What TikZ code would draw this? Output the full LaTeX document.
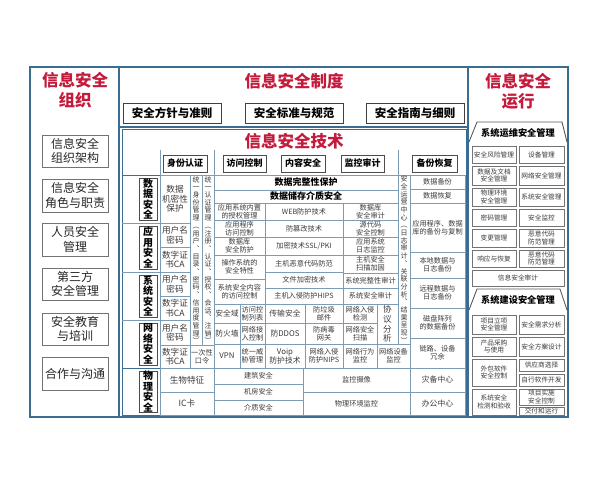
\documentclass[tikz,border=0pt]{standalone}
\usepackage{fontspec}
\setmainfont{Noto Sans CJK SC}
\definecolor{framec}{HTML}{3A6D90}
\definecolor{gridc}{HTML}{7D9CB4}
\definecolor{redc}{HTML}{C41A3B}
\definecolor{txt}{HTML}{3A3A3A}
\newcommand\bx[7][]{\node[cell,#1,minimum width={(#4-#2)*1pt},minimum height={(#5-#3)*1pt}] (#6) at ({(#2+#4)/2},{(#3+#5)/2}) {#7};}
\tikzset{
  frame/.style={draw=framec,line width=1.4pt},
  cell/.style={draw=gridc,line width=0.6pt,inner sep=0pt,outer sep=0pt,align=center,text=txt,font=\fontsize{7.2}{8}\selectfont},
  big/.style={font=\fontsize{8.6}{9.6}\selectfont},
  mid/.style={font=\fontsize{7.8}{8.6}\selectfont},
  strip/.style={font=\fontsize{7}{7.7}\selectfont},
  orgbox/.style={draw=black!55,line width=0.8pt,text=black!85,font=\fontsize{12}{14.5}\selectfont},
  polbox/.style={draw=black!75,line width=0.9pt,text=black,font=\bfseries\fontsize{11.5}{12}\selectfont},
  hdr/.style={draw=black!70,line width=0.8pt,text=black,font=\bfseries\fontsize{9}{10}\selectfont},
  catbox/.style={draw=black!70,line width=0.8pt,text=black,font=\bfseries\fontsize{10}{10.6}\selectfont},
  boldrow/.style={text=black,font=\bfseries\fontsize{9}{10}\selectfont},
  opcell/.style={draw=black!55,line width=0.7pt,text=txt,font=\fontsize{6.7}{7.6}\selectfont},
  trap/.style={draw=black!65,line width=0.9pt},
  traptext/.style={text=black,font=\bfseries\fontsize{9.2}{10}\selectfont},
  title/.style={text=redc,align=center,font=\bfseries\fontsize{16.5}{20}\selectfont}
}
\begin{document}
\begin{tikzpicture}[x=1pt,y=-1pt]
\useasboundingbox (0,0) rectangle (600,480);
% main frame
\draw[frame] (30,67) rectangle (568,417);
\draw[frame] (119,67) -- (119,417);
\draw[frame] (468,67) -- (468,417);
\draw[frame] (119,127) -- (468,127);
\draw[draw=framec,line width=0.8pt] (122,129) rectangle (466,415);
% titles
\node[title] (tOrg) at (75,90) {信息安全\\组织};
\node[title] (tSys) at (294,81) {信息安全制度};
\node[title] (tRun) at (518,91) {信息安全\\运行};
\node[title] (tTech) at (294,141) {信息安全技术};
% organisation boxes
\bx[orgbox]{42}{135}{108}{167}{o1}{信息安全\\组织架构}
\bx[orgbox]{42}{179}{108}{212}{o2}{信息安全\\角色与职责}
\bx[orgbox]{42}{223}{108}{256}{o3}{人员安全\\管理}
\bx[orgbox]{42}{268}{108}{300}{o4}{第三方\\安全管理}
\bx[orgbox]{42}{313}{108}{345}{o5}{安全教育\\与培训}
\bx[orgbox]{42}{357}{108}{390}{o6}{合作与沟通}
% policy boxes
\bx[polbox]{123}{103}{221}{123}{p1}{安全方针与准则}
\bx[polbox]{245}{103}{343}{123}{p2}{安全标准与规范}
\bx[polbox]{366}{103}{464}{123}{p3}{安全指南与细则}
% tech header area
\draw[draw=gridc,line width=0.8pt] (160,150) -- (160,175);
\draw[draw=gridc,line width=0.8pt] (214,150) -- (214,175);
\draw[draw=gridc,line width=0.8pt] (398,150) -- (398,175);
\draw[draw=framec,line width=0.8pt] (122,175) -- (466,175);
\bx[hdr]{163}{155}{207}{172}{h1}{身份认证}
\bx[hdr]{223}{155}{266}{172}{h2}{访问控制}
\bx[hdr]{281}{155}{325}{172}{h3}{内容安全}
\bx[hdr]{341}{155}{384}{172}{h4}{监控审计}
\bx[hdr]{412}{155}{457}{172}{h5}{备份恢复}
% category column
\draw[draw=gridc,line width=0.8pt] (122,223) -- (160,223);
\draw[draw=gridc,line width=0.8pt] (122,272) -- (160,272);
\draw[draw=gridc,line width=0.8pt] (122,320) -- (160,320);
\draw[draw=framec,line width=0.8pt] (122,368) -- (466,368);
\bx[catbox]{139}{178}{157}{220}{k1}{数\\据\\安\\全}
\bx[catbox]{139}{226}{157}{269}{k2}{应\\用\\安\\全}
\bx[catbox]{139}{275}{157}{317}{k3}{系\\统\\安\\全}
\bx[catbox]{139}{323}{157}{365}{k4}{网\\络\\安\\全}
\bx[catbox]{139}{371}{157}{412}{k5}{物\\理\\安\\全}
% identity column
\bx[big]{160}{175}{190}{223}{i1}{数据\\机密性\\保护}
\bx[big]{160}{223}{190}{247}{i2}{用户名\\密码}
\bx[big]{160}{247}{190}{272}{i3}{数字证\\书CA}
\bx[big]{160}{272}{190}{296}{i4}{用户名\\密码}
\bx[big]{160}{296}{190}{320}{i5}{数字证\\书CA}
\bx[big]{160}{320}{190}{345}{i6}{用户名\\密码}
\bx[big]{160}{345}{190}{368}{i7}{数字证\\书CA}
\bx[strip]{190}{175}{202}{345}{s1}{统\\一\\身\\份\\管\\理\\︵\\用\\户\\︑\\目\\录\\︑\\密\\码\\︑\\信\\用\\度\\管\\理\\︶}
\bx[strip]{202}{175}{214}{345}{s2}{统\\一\\认\\证\\管\\理\\︵\\注\\册\\︑\\认\\证\\︑\\授\\权\\︑\\会\\话\\︑\\注\\销\\︶}
\bx{190}{345}{214}{368}{i8}{一次性\\口令}
% data rows
\bx[boldrow]{214}{175}{398}{190}{d1}{数据完整性保护}
\bx[boldrow]{214}{190}{398}{203}{d2}{数据储存介质安全}
\bx{214}{203}{265}{220}{a1}{应用系统内置\\的授权管理}
\bx{265}{203}{343}{220}{a2}{WEB防护技术}
\bx{343}{203}{398}{220}{a3}{数据库\\安全审计}
\bx{214}{220}{265}{237}{a4}{应用程序\\访问控制}
\bx{265}{220}{343}{237}{a5}{防篡改技术}
\bx{343}{220}{398}{237}{a6}{源代码\\安全控制}
\bx{214}{237}{265}{255}{a7}{数据库\\安全防护}
\bx{265}{237}{343}{255}{a8}{加密技术SSL/PKI}
\bx{343}{237}{398}{255}{a9}{应用系统\\日志监控}
\bx{214}{255}{265}{279}{b1}{操作系统的\\安全特性}
\bx{214}{279}{265}{304}{b2}{系统安全内容\\的访问控制}
\bx{265}{255}{343}{272}{b3}{主机恶意代码防范}
\bx{265}{272}{343}{288}{b4}{文件加密技术}
\bx{265}{288}{343}{304}{b5}{主机入侵防护HIPS}
\bx{343}{255}{398}{273}{b6}{主机安全\\扫描加固}
\bx{343}{273}{398}{288}{b7}{系统完整性审计}
\bx{343}{288}{398}{304}{b8}{系统安全审计}
% network rows
\bx[mid]{214}{304}{240}{323}{n1}{安全域}
\bx[mid]{214}{323}{240}{344}{n2}{防火墙}
\bx[mid]{214}{344}{240}{368}{n3}{VPN}
\bx{240}{304}{265}{323}{n4}{访问控\\制列表}
\bx{240}{323}{265}{344}{n5}{网络接\\入控制}
\bx{240}{344}{265}{368}{n6}{统一威\\胁管理}
\bx[mid]{265}{304}{305}{323}{n7}{传输安全}
\bx[mid]{265}{323}{305}{344}{n8}{防DDOS}
\bx[mid]{265}{344}{305}{368}{n9}{Voip\\防护技术}
\bx{305}{304}{343}{323}{n10}{防垃圾\\邮件}
\bx{305}{323}{343}{344}{n11}{防病毒\\网关}
\bx{305}{344}{343}{368}{n12}{网络入侵\\防护NIPS}
\bx{343}{304}{377}{323}{n13}{网络入侵\\检测}
\bx{343}{323}{377}{344}{n14}{网络安全\\扫描}
\bx{343}{344}{377}{368}{n15}{网络行为\\监控}
\bx[big]{377}{304}{398}{344}{n16}{协\\议\\分\\析}
\bx{377}{344}{410}{368}{n17}{网络设备\\监控}
\bx[strip]{398}{175}{410}{344}{s3}{安\\全\\运\\营\\中\\心\\︵\\日\\志\\审\\计\\︑\\关\\联\\分\\析\\︑\\结\\果\\呈\\现\\︶}
% backup column
\bx{410}{175}{465}{189}{r1}{数据备份}
\bx{410}{189}{465}{203}{r2}{数据恢复}
\bx{410}{203}{465}{252}{r3}{应用程序、数据\\库的备份与复制}
\bx{410}{252}{465}{278}{r4}{本地数据与\\日志备份}
\bx{410}{278}{465}{308}{r5}{远程数据与\\日志备份}
\bx{410}{308}{465}{338}{r6}{磁盘阵列\\的数据备份}
\bx{410}{338}{465}{368}{r7}{链路、设备\\冗余}
% physical row
\bx[big]{160}{368}{214}{392}{f1}{生物特征}
\bx[big]{160}{392}{214}{415}{f2}{IC卡}
\bx{214}{368}{303}{384}{f3}{建筑安全}
\bx{214}{384}{303}{400}{f4}{机房安全}
\bx{214}{400}{303}{415}{f5}{介质安全}
\bx{303}{368}{410}{392}{f6}{监控摄像}
\bx{303}{392}{410}{415}{f7}{物理环境监控}
\bx[mid]{410}{368}{465}{392}{f8}{灾备中心}
\bx[mid]{410}{392}{465}{415}{f9}{办公中心}
% operations column
\draw[trap] (469,142) -- (477,122) -- (562,122) -- (567,142);
\node[traptext] (tr1) at (518,133) {系统运维安全管理};
\bx[opcell]{472}{146}{516}{163}{q1}{安全风险管理}
\bx[opcell]{519}{146}{564}{163}{q2}{设备管理}
\bx[opcell]{472}{166}{516}{185}{q3}{数据及文档\\安全管理}
\bx[opcell]{519}{166}{564}{185}{q4}{网络安全管理}
\bx[opcell]{472}{188}{516}{206}{q5}{物理环境\\安全管理}
\bx[opcell]{519}{188}{564}{206}{q6}{系统安全管理}
\bx[opcell]{472}{209}{516}{226}{q7}{密码管理}
\bx[opcell]{519}{209}{564}{226}{q8}{安全监控}
\bx[opcell]{472}{229}{516}{247}{q9}{变更管理}
\bx[opcell]{519}{229}{564}{247}{q10}{恶意代码\\防范管理}
\bx[opcell]{472}{250}{516}{267}{q11}{响应与恢复}
\bx[opcell]{519}{250}{564}{267}{q12}{恶意代码\\防范管理}
\bx[opcell]{472}{270}{564}{286}{q13}{信息安全审计}
\draw[trap] (469,310) -- (477,289) -- (560,289) -- (567,310);
\node[traptext] (tr2) at (518,300) {系统建设安全管理};
\bx[opcell]{472}{315}{516}{334}{w1}{项目立项\\安全管理}
\bx[opcell]{519}{315}{564}{334}{w2}{安全需求分析}
\bx[opcell]{472}{337}{516}{356}{w3}{产品采购\\与使用}
\bx[opcell]{519}{337}{564}{356}{w4}{安全方案设计}
\bx[opcell]{472}{359}{516}{386}{w5}{外包软件\\安全控制}
\bx[opcell]{519}{359}{564}{371}{w6}{供应商选择}
\bx[opcell]{519}{374}{564}{386}{w7}{自行软件开发}
\bx[opcell]{472}{389}{516}{415}{w8}{系统安全\\检测和验收}
\bx[opcell]{519}{389}{564}{405}{w9}{项目实施\\安全控制}
\bx[opcell]{519}{407}{564}{415}{w10}{交付和运行}
\end{tikzpicture}
\end{document}
